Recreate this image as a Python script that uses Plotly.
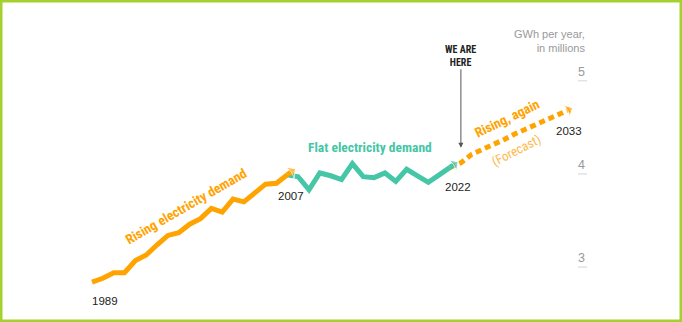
import plotly.graph_objects as go

# ---- data ----
rise_years = list(range(1989, 2008))
rise_vals = [2.84, 2.88, 2.94, 2.94, 3.07, 3.13, 3.24, 3.34, 3.37, 3.46,
             3.52, 3.63, 3.59, 3.73, 3.70, 3.79, 3.89, 3.90, 3.99]
flat_years = list(range(2007, 2023))
flat_vals = [3.99, 3.97, 3.83, 4.01, 3.98, 3.94, 4.11, 3.97, 3.96, 4.01,
             3.92, 4.05, 3.98, 3.91, 3.99, 4.07]
fc_years = list(range(2022, 2034))
fc_vals = [4.07, 4.12, 4.21, 4.26, 4.31, 4.37, 4.43, 4.48, 4.54, 4.59, 4.63, 4.69]
y_ticks = [3, 4, 5]
y_tick_labels = ["3", "4", "5"]
year_labels = ["1989", "2007", "2022", "2033"]

ORANGE = "#FFA300"
TEAL = "#45C6A6"
LW = 5
ARROW = 13


def tip(xs, ys, ext):
    # arrow tip: extend the last segment a little
    dx = xs[-1] - xs[-2]
    dy = ys[-1] - ys[-2]
    return [xs[-1], xs[-1] + ext * dx], [ys[-1], ys[-1] + ext * dy]


fig = go.Figure()

# forecast (dotted) first so the teal arrowhead sits above it
fig.add_trace(go.Scatter(x=fc_years, y=fc_vals, mode="lines",
                         line=dict(color=ORANGE, width=LW, dash="6px,4px"),
                         hoverinfo="skip"))
tx, ty = tip(fc_years, fc_vals, 0.3)
fig.add_trace(go.Scatter(x=tx, y=ty, mode="markers",
                         marker=dict(symbol="arrow-wide", size=[0, ARROW], color=ORANGE,
                                     angleref="previous"),
                         hoverinfo="skip"))

fig.add_trace(go.Scatter(x=flat_years, y=flat_vals, mode="lines",
                         line=dict(color=TEAL, width=LW), hoverinfo="skip"))
tx, ty = tip(flat_years, flat_vals, 0.75)
fig.add_trace(go.Scatter(x=tx, y=ty, mode="lines+markers",
                         line=dict(color=TEAL, width=LW),
                         marker=dict(symbol="arrow-wide", size=[0, ARROW], color=TEAL,
                                     angleref="previous"),
                         hoverinfo="skip"))

fig.add_trace(go.Scatter(x=rise_years, y=rise_vals, mode="lines",
                         line=dict(color=ORANGE, width=LW), hoverinfo="skip"))
tx, ty = tip(rise_years, rise_vals, 0.75)
fig.add_trace(go.Scatter(x=tx, y=ty, mode="lines+markers",
                         line=dict(color=ORANGE, width=LW),
                         marker=dict(symbol="arrow-wide", size=[0, ARROW], color=ORANGE,
                                     angleref="previous"),
                         hoverinfo="skip"))

LABEL_FONT = dict(family="Liberation Sans, Arial", size=11.5, color="#222")
BOLD = "Liberation Sans Narrow, Roboto Condensed, Liberation Sans, Arial"

ann = []
# year labels
ann.append(dict(x=rise_years[0], y=rise_vals[0], text=year_labels[0], showarrow=False,
                xanchor="left", yanchor="middle", yshift=-19, xshift=-2, font=LABEL_FONT))
ann.append(dict(x=rise_years[-1], y=rise_vals[-1], text=year_labels[1], showarrow=False,
                xanchor="center", yanchor="middle", yshift=-21, xshift=4, font=LABEL_FONT))
ann.append(dict(x=flat_years[-1], y=flat_vals[-1], text=year_labels[2], showarrow=False,
                xanchor="center", yanchor="middle", yshift=-20, xshift=8, font=LABEL_FONT))
ann.append(dict(x=fc_years[-1], y=fc_vals[-1], text=year_labels[3], showarrow=False,
                xanchor="center", yanchor="middle", yshift=-21, xshift=0, font=LABEL_FONT))

# series labels
ann.append(dict(x=1997.65, y=3.66, text="<b>Rising electricity demand</b>", showarrow=False,
                textangle=-30, font=dict(family=BOLD, size=13.5, color=ORANGE)))
ann.append(dict(x=2014.6, y=4.29, text="<b>Flat electricity demand</b>", showarrow=False,
                font=dict(family=BOLD, size=13.5, color=TEAL)))
ann.append(dict(x=2027.25, y=4.60, text="<b>Rising, again</b>", showarrow=False,
                textangle=-26, font=dict(family=BOLD, size=13.5, color=ORANGE)))
ann.append(dict(x=2028.1, y=4.25, text="(Forecast)", showarrow=False,
                textangle=-27, font=dict(family=BOLD, size=13, color="#FDB94E")))

# WE ARE HERE
ann.append(dict(x=2023.0, y=4.28, text="<b>WE ARE<br>HERE</b>", showarrow=True,
                ax=0, ay=-92, arrowhead=2, arrowsize=1, arrowwidth=1, arrowcolor="#555",
                standoff=0, font=dict(family=BOLD, size=10, color="#222")))

# y-axis title and tick labels on the right
ann.append(dict(xref="paper", yref="paper", x=587 / 682, y=1 - 26 / 322,
                text="GWh per year,<br>in millions", showarrow=False, align="right",
                xanchor="right", yanchor="top",
                font=dict(family="Liberation Sans, Arial", size=11, color="#999")))
shapes = []
for v, lab in zip(y_ticks, y_tick_labels):
    ann.append(dict(xref="paper", x=587 / 682, y=v, text=lab, showarrow=False,
                    xanchor="right", yanchor="middle", yshift=9,
                    font=dict(family="Liberation Sans, Arial", size=12.5, color="#999")))
    shapes.append(dict(type="line", xref="paper", x0=578 / 682, x1=587 / 682,
                       y0=v, y1=v, line=dict(color="#e2e2e2", width=1.5)))

# green frame
shapes.append(dict(type="rect", xref="paper", yref="paper", x0=0, x1=1, y0=0, y1=1,
                   line=dict(color="#A5D12F", width=5), layer="above"))

fig.update_layout(
    width=682, height=322,
    margin=dict(l=0, r=0, t=0, b=0),
    paper_bgcolor="white", plot_bgcolor="white",
    showlegend=False,
    xaxis=dict(range=[1989 - 92 / 10.85, 1989 + 590 / 10.85], visible=False, fixedrange=True),
    yaxis=dict(range=[2.411, 5.866], visible=False, fixedrange=True),
    annotations=ann, shapes=shapes,
)

fig.write_html("out.html", config={"displayModeBar": False})
